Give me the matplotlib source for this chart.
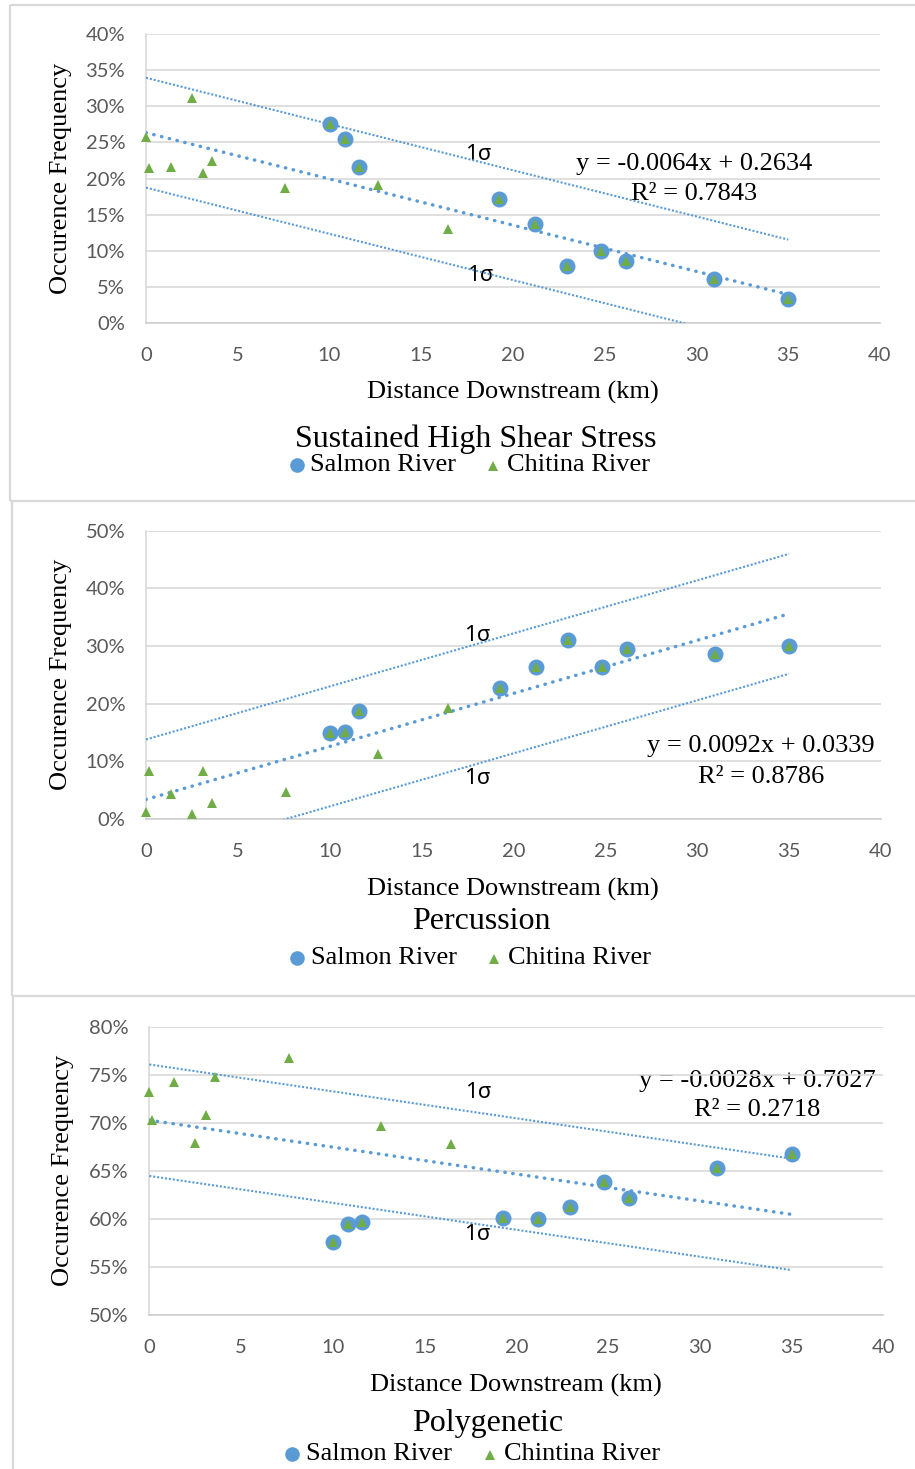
import numpy as np
import matplotlib
matplotlib.use("Agg")
import matplotlib.pyplot as plt
from matplotlib.ticker import PercentFormatter

# ---------------- data ----------------
salmon_x = [10.0, 10.85, 11.6, 19.25, 21.2, 22.95, 24.8, 26.15, 30.95, 35.0]
chitina_x = [0.0, 0.15, 1.35, 2.5, 3.1, 3.6, 7.6, 12.65, 16.45]

shear_salmon = [0.275, 0.255, 0.216, 0.172, 0.137, 0.079, 0.100, 0.086, 0.061, 0.033]
shear_chitina = [0.257, 0.215, 0.216, 0.311, 0.208, 0.224, 0.187, 0.191, 0.130]

perc_salmon = [0.149, 0.151, 0.187, 0.228, 0.264, 0.310, 0.264, 0.294, 0.287, 0.300]
perc_chitina = [0.012, 0.083, 0.043, 0.009, 0.083, 0.028, 0.047, 0.112, 0.192]

poly_salmon = [0.576, 0.595, 0.597, 0.601, 0.600, 0.612, 0.638, 0.622, 0.653, 0.668]
poly_chitina = [0.732, 0.703, 0.742, 0.679, 0.708, 0.748, 0.767, 0.697, 0.678]

titles = ["Sustained High Shear Stress", "Percussion", "Polygenetic"]
legend_second = ["Chitina River", "Chitina River", "Chintina River"]
slopes = [-0.0064, 0.0092, -0.0028]
intercepts = [0.2634, 0.0339, 0.7027]
r2_values = [0.7843, 0.8786, 0.2718]
sigmas = [0.076, 0.104, 0.058]
y_ranges = [(0.0, 0.40), (0.0, 0.50), (0.50, 0.80)]
y_steps = [0.05, 0.10, 0.05]
x_ticks = [0, 5, 10, 15, 20, 25, 30, 35, 40]

salmon_sets = [shear_salmon, perc_salmon, poly_salmon]
chitina_sets = [shear_chitina, perc_chitina, poly_chitina]

# ---------------- style ----------------
W, H = 915, 1469
BLUE = "#5B9BD5"
GREEN = "#70AD47"
GRID = "#d9d9d9"
TICK = "#595959"
SERIF = ["Liberation Serif", "DejaVu Serif"]
SANS = ["Lato", "DejaVu Sans"]
SIG = ["Noto Sans", "DejaVu Sans"]

fig = plt.figure(figsize=(W / 100, H / 100), dpi=100)
fig.patch.set_facecolor("white")

# overlay in pixel coordinates
ov = fig.add_axes([0, 0, 1, 1], zorder=-1)
ov.set_xlim(0, W)
ov.set_ylim(H, 0)
ov.axis("off")

def fx(px):
    return px / W

def fy(py):
    return 1 - py / H

# panel borders
for seg in [((10, 5), (915, 5)), ((10, 5), (10, 501)), ((10, 501), (915, 501)),
            ((11.5, 501), (11.5, 996)), ((11.5, 996), (915, 996)), ((13, 996), (13, 1469))]:
    ov.plot([seg[0][0], seg[1][0]], [seg[0][1], seg[1][1]], color=GRID, lw=1.6,
            solid_capstyle="butt")

# axes geometry in pixels: left, right, top, bottom
geoms = [(146, 880, 34, 323), (146, 881, 530.7, 819), (149.3, 883.3, 1026.7, 1315)]
ylab_x = [60.5, 60.5, 63.5]
xlab_pos = [(512.5, 392), (513, 889), (516, 1385)]
title_pos = [(475.5, 439.5), (481.7, 921), (487.5, 1424)]
leg_y = [464.5, 958, 1454]
leg_cx = [(297, 310, 493, 507), (297, 311, 494, 508), (292, 306, 490, 504)]
eq_pos = [(694, 164, 194), (761, 746, 777), (757, 1081, 1110)]
sig_pos = [((478, 154), (480, 275)), ((477, 635), (477, 778)), ((478, 1092), (477, 1235))]

for i in range(3):
    l, r, t, b = geoms[i]
    ax = fig.add_axes([fx(l), fy(b), (r - l) / W, (b - t) / H])
    ax.set_facecolor("none")
    y0, y1 = y_ranges[i]
    ax.set_xlim(0, 40)
    ax.set_ylim(y0, y1)
    ax.set_xticks(x_ticks)
    ax.set_yticks(np.arange(y0, y1 + 1e-9, y_steps[i]))
    ax.yaxis.set_major_formatter(PercentFormatter(1.0, decimals=0))
    ax.tick_params(length=0, labelsize=14.5, labelcolor=TICK)
    ax.tick_params(axis="y", pad=15)
    ax.tick_params(axis="x", pad=17)
    for lab in ax.get_xticklabels() + ax.get_yticklabels():
        lab.set_family(SANS)
    ax.grid(axis="y", color=GRID, lw=1.2)
    ax.set_axisbelow(True)
    for s in ["top", "right"]:
        ax.spines[s].set_visible(False)
    ax.spines["left"].set_color(GRID)
    ax.spines["left"].set_linewidth(1.2)
    ax.spines["bottom"].set_color("#cfcfcf")
    ax.spines["bottom"].set_linewidth(1.2)

    # trend + sigma lines
    xs = np.array([0.0, max(salmon_x)])
    ys = slopes[i] * xs + intercepts[i]
    ax.plot(xs, ys, color=BLUE, lw=2.5, linestyle=(0, (0.1, 2.2)),
            dash_capstyle="round", zorder=3)
    for sgn in (1, -1):
        ax.plot(xs, ys + sgn * sigmas[i], color=BLUE, lw=1.5,
                linestyle=(0, (1.0, 0.9)), zorder=3)

    # points
    ax.plot(salmon_x, salmon_sets[i], "o", color=BLUE, ms=11.5, mew=0, zorder=4, clip_on=False)
    ax.plot(chitina_x, chitina_sets[i], "^", color=GREEN, ms=7.2, mew=0, zorder=5, clip_on=False)
    ax.plot(salmon_x, salmon_sets[i], "^", color=GREEN, ms=7.2, mew=0, zorder=5, clip_on=False)

    # texts
    ov.text(ylab_x[i], (t + b) / 2, "Occurence Frequency", rotation=90, ha="center",
            va="center", fontsize=19, family=SERIF)
    ov.text(xlab_pos[i][0], xlab_pos[i][1], "Distance Downstream (km)", ha="center",
            va="center", fontsize=19, family=SERIF)
    ov.text(title_pos[i][0], title_pos[i][1], titles[i], ha="center", va="center",
            fontsize=23, family=SERIF)
    cx1, tx1, cx2, tx2 = leg_cx[i]
    ov.plot([cx1], [leg_y[i]], "o", color=BLUE, ms=10.5, mew=0)
    ov.plot([cx2], [leg_y[i] + 1], "^", color=GREEN, ms=6.5, mew=0)
    ov.text(tx1, leg_y[i], "Salmon River", ha="left", va="center", fontsize=19, family=SERIF)
    ov.text(tx2, leg_y[i], legend_second[i], ha="left", va="center", fontsize=19, family=SERIF)

    ex, ey1, ey2 = eq_pos[i]
    sign = "-" if slopes[i] < 0 else ""
    eq = f"y = {sign}{abs(slopes[i]):.4f}x + {intercepts[i]:.4f}"
    ov.text(ex, ey1, eq, ha="center", va="center", fontsize=19, family=SERIF)
    ov.text(ex, ey2, f"R\u00b2 = {r2_values[i]:.4f}", ha="center", va="center",
            fontsize=19, family=SERIF)
    for (sx, sy) in sig_pos[i]:
        ov.text(sx, sy, "1\u03c3", ha="center", va="center", fontsize=16, family=SIG)

fig.savefig("out.png", dpi=100, facecolor="white")
